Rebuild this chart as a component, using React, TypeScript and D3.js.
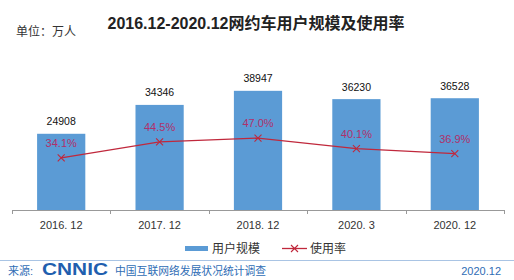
import React from "react";
import * as d3 from "d3";

const categories = ["2016. 12", "2017. 12", "2018. 12", "2020. 3", "2020. 12"];
const users = [24908, 34346, 38947, 36230, 36528];
const rates = [34.1, 44.5, 47.0, 40.1, 36.9];
const title = "2016.12-2020.12网约车用户规模及使用率";
const unitLabel = "单位：万人";
const legendLabels = ["用户规模", "使用率"];

const W = 514, H = 280;
const FONT = "'Liberation Sans', 'Noto Sans CJK SC', sans-serif";
const NUMFONT = "'Liberation Sans', Arial, sans-serif";

export default function App() {
  const x = d3.scaleBand<string>().domain(categories).range([12, 504]).paddingInner(0).paddingOuter(0);
  const y = d3.scaleLinear().domain([0, 50000]).range([210, 57]);
  const y2 = d3.scaleLinear().domain([0, 100]).range([210, 57]);
  const bw = x.bandwidth() * 0.49;
  const cx = (c: string) => (x(c) as number) + x.bandwidth() / 2;
  const line = d3.line<number>().x((_, i) => cx(categories[i])).y((v) => y2(v));

  const xm = (px: number, py: number, s: number) =>
    `M${px - s},${py - s}L${px + s},${py + s}M${px - s},${py + s}L${px + s},${py - s}`;

  return (
    <svg width={W} height={H} style={{ position: "absolute", left: 0, top: 0, background: "#fff" }}>
      <rect width={W} height={H} fill="#fff" />
      <text x={256} y={29} textAnchor="middle" fontFamily={FONT} fontWeight="bold" fontSize={16} fill="#222">{title}</text>
      <text x={16} y={36} fontFamily={FONT} fontSize={12} fill="#333">{unitLabel}</text>

      {categories.map((c, i) => (
        <rect key={c} x={cx(c) - bw / 2} y={y(users[i])} width={bw} height={210 - y(users[i])} fill="#5B9BD5" />
      ))}
      {categories.map((c, i) => (
        <text key={c} x={cx(c)} y={y(users[i]) - 8.5} textAnchor="middle" fontFamily={NUMFONT} fontSize={10.5} fill="#111">{users[i]}</text>
      ))}

      <line x1={12} x2={504} y1={210.5} y2={210.5} stroke="#999" />
      {d3.range(categories.length + 1).map((i) => {
        const tx = Math.round(12 + i * x.bandwidth()) + 0.5;
        return <line key={i} x1={tx} x2={tx} y1={210} y2={214} stroke="#999" />;
      })}
      {categories.map((c) => (
        <text key={c} x={cx(c)} y={229} textAnchor="middle" fontFamily={NUMFONT} fontSize={11} fill="#333">{c}</text>
      ))}

      <path d={line(rates) || ""} fill="none" stroke="#C0283C" strokeWidth={1.3} />
      {rates.map((v, i) => (
        <path key={i} d={xm(cx(categories[i]), y2(v), 3.5)} stroke="#C0283C" strokeWidth={1.1} fill="none" />
      ))}
      {rates.map((v, i) => (
        <text key={i} x={cx(categories[i])} y={y2(v) - 11} textAnchor="middle" fontFamily={NUMFONT} fontSize={11} fill="#B0306A">{v.toFixed(1) + "%"}</text>
      ))}

      <rect x={185} y={246} width={23} height={5} fill="#5B9BD5" />
      <text x={212} y={253} fontFamily={FONT} fontSize={12} fill="#333">{legendLabels[0]}</text>
      <line x1={282} x2={307} y1={248.5} y2={248.5} stroke="#C0283C" strokeWidth={1.3} />
      <path d={xm(294.5, 248.5, 3.5)} stroke="#C0283C" strokeWidth={1.1} fill="none" />
      <text x={310} y={253} fontFamily={FONT} fontSize={12} fill="#333">{legendLabels[1]}</text>

      <line x1={0} x2={W} y1={260.5} y2={260.5} stroke="#A9C4E4" strokeWidth={1} />
      <text x={8} y={275} fontFamily={FONT} fontSize={11} fill="#2F6DB5">来源:</text>
      <text x={42} y={275} fontFamily={NUMFONT} fontWeight="bold" fontSize={17} fill="#1F5FAF" textLength={66} lengthAdjust="spacingAndGlyphs">CNNIC</text>
      <text x={115} y={275} fontFamily={FONT} fontSize={10.8} fill="#2F6DB5">中国互联网络发展状况统计调查</text>
      <text x={501} y={275} textAnchor="end" fontFamily={NUMFONT} fontSize={11} fill="#2F6DB5">2020.12</text>
    </svg>
  );
}
